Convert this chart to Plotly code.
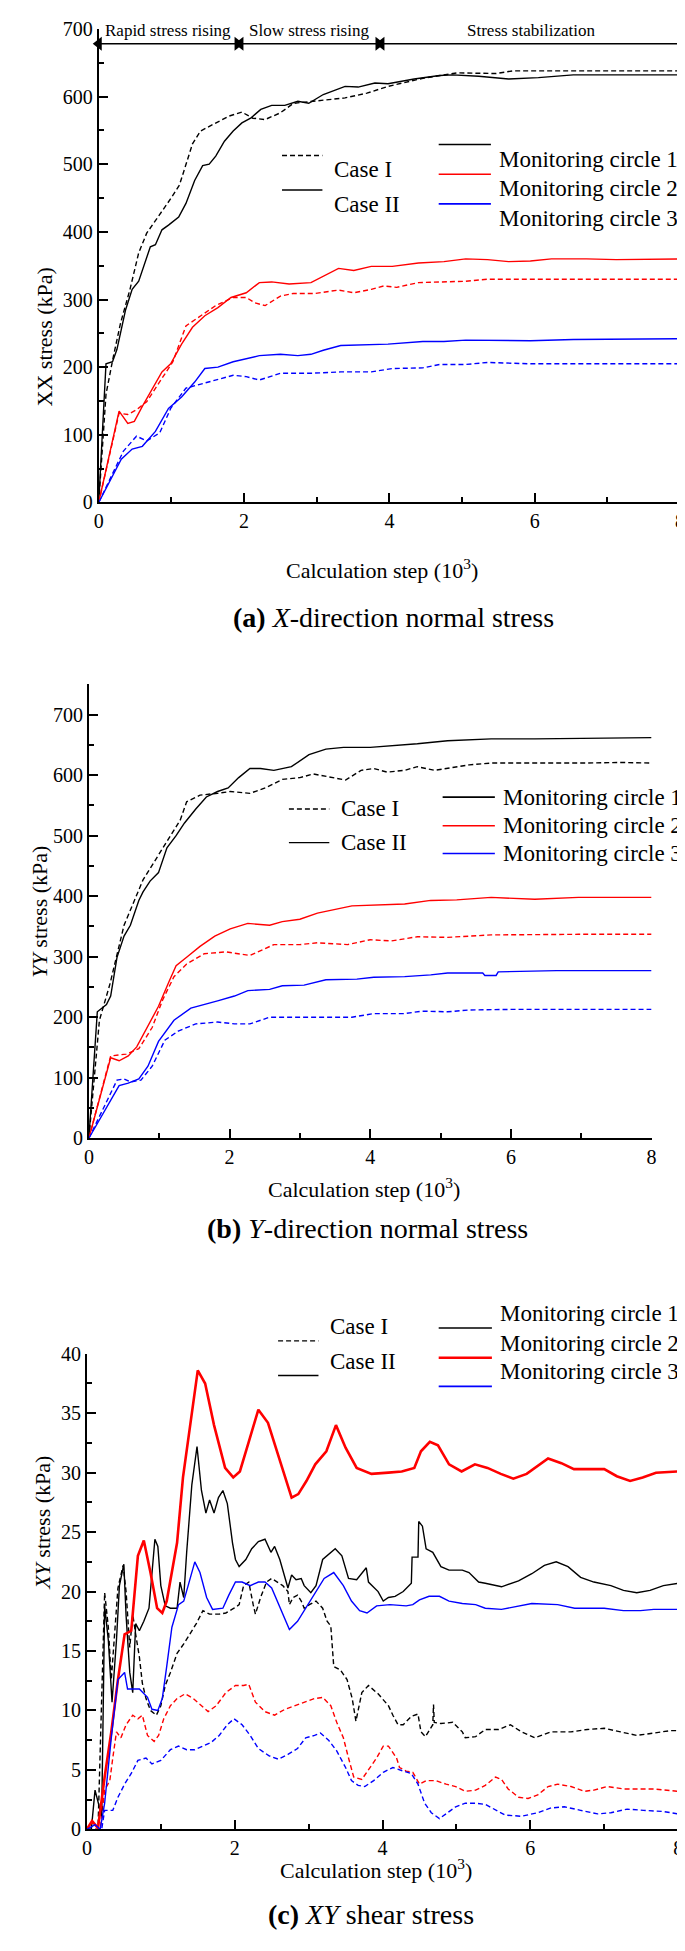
import plotly.graph_objects as go

W, H = 685, 1951
FONT = "Liberation Serif"

# ---------------- panel (a): XX stress ----------------
a_c1_ii_x = [0, 0.1, 0.19, 0.25, 0.37, 0.46, 0.55, 0.6, 0.71, 0.78, 0.87, 0.96, 1.1, 1.2, 1.32, 1.43, 1.52, 1.61, 1.73, 1.85,
             1.97, 2.09, 2.23, 2.38, 2.56, 2.74, 2.89, 3.09, 3.39, 3.57, 3.8, 3.98, 4.34, 4.69, 4.87, 5.23, 5.64, 6.05, 6.53, 7.12, 8]
a_c1_ii_y = [0, 205, 208, 226, 285, 315, 327, 344, 378, 381, 403, 410, 422, 442, 476, 498, 500, 512, 534, 549,
             561, 568, 581, 587, 587, 593, 590, 603, 615, 614, 620, 619, 626, 631, 632, 630, 626, 628, 632, 632, 632]
a_c1_i_x = [0, 0.1, 0.2, 0.3, 0.43, 0.55, 0.66, 0.84, 0.99, 1.11, 1.2, 1.29, 1.4, 1.61, 1.79, 1.97, 2.12, 2.29, 2.5, 2.68,
            2.98, 3.39, 3.69, 3.98, 4.46, 4.93, 5.47, 5.7, 6.53, 8]
a_c1_i_y = [0, 160, 215, 265, 315, 369, 398, 425, 449, 469, 500, 530, 549, 561, 571, 577, 568, 566, 576, 590,
            593, 598, 605, 615, 627, 635, 634, 638, 638, 638]
a_c2_ii_x = [0, 0.28, 0.4, 0.49, 0.6, 0.72, 0.87, 0.99, 1.14, 1.29, 1.46, 1.64, 1.82, 2.03, 2.21, 2.38, 2.62, 2.92, 3.09, 3.3,
             3.51, 3.75, 4.04, 4.4, 4.75, 5.05, 5.35, 5.64, 5.94, 6.23, 6.71, 7.12, 8]
a_c2_ii_y = [0, 135, 117, 120, 142, 164, 193, 205, 234, 259, 276, 288, 303, 310, 325, 326, 323, 325, 334, 346,
             343, 349, 349, 354, 356, 360, 359, 356, 357, 360, 360, 359, 360]
a_c2_i_x = [0, 0.28, 0.4, 0.52, 0.66, 0.84, 1.02, 1.2, 1.37, 1.61, 1.85, 2.03, 2.15, 2.29, 2.5, 2.68, 2.98, 3.3, 3.51, 3.75,
            3.92, 4.1, 4.4, 4.69, 5.05, 5.35, 5.94, 8]
a_c2_i_y = [0, 132, 130, 137, 149, 178, 208, 261, 274, 291, 303, 303, 295, 291, 305, 309, 309, 314, 310, 315,
            320, 318, 325, 326, 327, 330, 330, 330]
a_c3_ii_x = [0, 0.31, 0.46, 0.6, 0.78, 0.96, 1.14, 1.32, 1.46, 1.64, 1.85, 2.03, 2.21, 2.5, 2.74, 2.92, 3.09, 3.33, 3.57, 3.98,
             4.46, 4.75, 5.05, 5.94, 6.53, 8]
a_c3_ii_y = [0, 64, 79, 83, 105, 139, 156, 178, 198, 200, 208, 213, 217, 219, 217, 219, 225, 232, 233, 234,
             238, 238, 240, 239, 241, 242]
a_c3_i_x = [0, 0.34, 0.52, 0.66, 0.84, 0.99, 1.2, 1.37, 1.61, 1.85, 2.03, 2.21, 2.5, 2.92, 3.33, 3.75, 4.04, 4.46, 4.69, 5.05,
            5.35, 5.94, 8]
a_c3_i_y = [0, 76, 98, 91, 103, 139, 169, 174, 181, 188, 186, 181, 191, 191, 193, 193, 198, 199, 204, 204,
            207, 205, 205]

# stage bands marked by arrows on top of panel (a)
stage_names = ["Rapid stress rising", "Slow stress rising", "Stress stabilization"]
stage_start = [0, 1.95, 3.89]
stage_end = [1.91, 3.85, 8]
stage_arrow_y = 678
stage_text_y = 697

# ---------------- panel (b): YY stress ----------------
b_c1_ii_x = [0, 0.12, 0.25, 0.31, 0.4, 0.5, 0.59, 0.71, 0.77, 0.87, 0.99, 1.11, 1.24, 1.36, 1.52, 1.67, 1.83, 1.98, 2.13, 2.29,
             2.44, 2.63, 2.88, 3.13, 3.37, 3.62, 4.0, 4.49, 4.67, 5.1, 5.72, 6.34, 6.96, 8]
b_c1_ii_y = [0, 209, 221, 235, 299, 334, 352, 393, 407, 425, 439, 480, 500, 521, 544, 564, 573, 579, 596, 611,
             611, 608, 614, 634, 643, 646, 646, 650, 652, 657, 660, 660, 661, 662]
b_c1_i_x = [0, 0.15, 0.3, 0.5, 0.77, 0.96, 1.11, 1.3, 1.39, 1.58, 1.83, 2.01, 2.29, 2.51, 2.75, 3.0, 3.19, 3.43, 3.65, 3.87,
            4.05, 4.24, 4.49, 4.67, 4.92, 5.41, 5.72, 6.96, 7.58, 8]
b_c1_i_y = [0, 195, 255, 352, 427, 462, 491, 526, 556, 567, 570, 573, 570, 579, 593, 596, 602, 597, 592, 608,
            611, 605, 608, 614, 608, 617, 620, 620, 621, 620]
b_c2_ii_x = [0, 0.31, 0.43, 0.56, 0.68, 0.84, 0.99, 1.14, 1.24, 1.39, 1.58, 1.79, 2.01, 2.26, 2.57, 2.75, 3.0, 3.25, 3.5, 3.74,
             4.49, 4.86, 5.23, 5.72, 6.34, 6.96, 8]
b_c2_ii_y = [0, 133, 128, 136, 151, 186, 218, 259, 285, 299, 317, 334, 346, 355, 352, 358, 362, 372, 378, 384,
             387, 393, 394, 398, 395, 398, 398]
b_c2_i_x = [0, 0.31, 0.53, 0.71, 0.9, 1.05, 1.21, 1.39, 1.64, 1.95, 2.29, 2.63, 3.0, 3.25, 3.68, 4.0, 4.3, 4.67, 5.1, 5.72,
            6.96, 8]
b_c2_i_y = [0, 136, 139, 148, 183, 229, 267, 288, 305, 308, 302, 320, 320, 323, 320, 328, 326, 333, 332, 336,
            337, 337]
b_c3_ii_x = [0, 0.43, 0.56, 0.71, 0.84, 0.99, 1.21, 1.45, 1.83, 2.07, 2.26, 2.57, 2.75, 3.06, 3.37, 3.81, 4.05, 4.49, 4.86, 5.1,
             5.6, 5.63, 5.79, 5.82, 6.65, 8]
b_c3_ii_y = [0, 87, 91, 98, 119, 160, 195, 215, 227, 235, 244, 246, 252, 253, 262, 263, 266, 267, 270, 273,
             273, 269, 269, 275, 277, 277]
b_c3_i_x = [0, 0.4, 0.5, 0.59, 0.74, 0.9, 1.08, 1.27, 1.52, 1.83, 2.07, 2.29, 2.57, 3.0, 3.74, 4.05, 4.49, 4.73, 5.1, 5.41,
            6.03, 8]
b_c3_i_y = [0, 96, 98, 93, 96, 119, 162, 177, 189, 192, 189, 189, 200, 200, 200, 206, 206, 210, 209, 212,
            213, 213]

# ---------------- panel (c): XY shear stress ----------------
c_c1_ii_x = [0, 0.06, 0.11, 0.15, 0.2, 0.24, 0.29, 0.34, 0.4, 0.44, 0.5, 0.53, 0.58, 0.62, 0.66, 0.71, 0.77, 0.84, 0.88, 0.92,
             0.96, 1.0, 1.06, 1.13, 1.22, 1.26, 1.31, 1.35, 1.42, 1.49, 1.55, 1.61, 1.66, 1.72, 1.78, 1.84, 1.9, 1.97, 2.01, 2.06,
             2.15, 2.23, 2.32, 2.41, 2.49, 2.54, 2.61, 2.68, 2.72, 2.77, 2.83, 2.9, 2.94, 3.03, 3.1, 3.19, 3.36, 3.45, 3.54, 3.65,
             3.78, 3.81, 3.94, 4.01, 4.08, 4.17, 4.28, 4.39, 4.4, 4.48, 4.49, 4.54, 4.59, 4.68, 4.79, 4.9, 5.08, 5.17, 5.3, 5.39,
             5.61, 5.84, 6.02, 6.19, 6.35, 6.51, 6.68, 6.86, 7.09, 7.26, 7.44, 7.62, 7.8, 8]
c_c1_ii_y = [0, 0, 3.3, 2.2, 1.1, 18.8, 15.9, 10.7, 15.9, 20.5, 22.3, 18, 13.2, 11.5, 17.3, 16.7, 17.5, 18.6, 21.4, 24.4,
             23.8, 20.5, 18.8, 18.6, 18.6, 20.8, 19.5, 23.3, 29, 32.2, 28.5, 26.6, 27.7, 26.6, 27.9, 28.5, 27.4, 24.1, 22.7, 22.1,
             22.7, 23.6, 24.2, 24.4, 23.3, 23.8, 22.7, 21.1, 20.3, 21.4, 21, 21.1, 20.5, 19.9, 20.5, 22.7, 23.6, 23, 21.1, 21,
             22, 20.8, 20, 19.2, 19.5, 19.6, 20, 20.7, 22.9, 22.9, 25.9, 25.5, 23.6, 23.3, 22.1, 21.8, 21.8, 21.6, 20.8, 20.7,
             20.4, 20.9, 21.5, 22.2, 22.5, 22.1, 21.2, 20.8, 20.5, 20.1, 19.9, 20.1, 20.5, 20.7]
c_c1_i_x = [0, 0.15, 0.24, 0.29, 0.33, 0.42, 0.49, 0.53, 0.58, 0.62, 0.66, 0.71, 0.75, 0.8, 0.86, 0.94, 1.0, 1.06, 1.13, 1.22,
            1.31, 1.39, 1.48, 1.57, 1.66, 1.79, 1.88, 1.99, 2.06, 2.12, 2.19, 2.25, 2.28, 2.35, 2.43, 2.5, 2.57, 2.65, 2.72, 2.74,
            2.79, 2.85, 2.9, 2.94, 3.01, 3.1, 3.19, 3.25, 3.3, 3.34, 3.43, 3.52, 3.59, 3.64, 3.72, 3.81, 3.94, 4.08, 4.14, 4.21,
            4.28, 4.39, 4.48, 4.52, 4.58, 4.68, 4.69, 4.7, 4.79, 4.95, 5.08, 5.12, 5.26, 5.39, 5.57, 5.73, 5.88, 6.06, 6.28, 6.55,
            6.77, 7.0, 7.22, 7.44, 7.67, 7.89, 8]
c_c1_i_y = [0, 0, 19.9, 17, 12.6, 20.3, 22.2, 20, 15.3, 18.1, 16.4, 14.5, 12.3, 11, 10, 9.6, 10.4, 12.1, 13.2, 14.8,
            15.6, 16.4, 17.3, 18.4, 18.1, 18.1, 18.2, 18.6, 18.9, 20.5, 20.8, 18.9, 18.1, 19.5, 20.8, 21.1, 20.8, 20.5, 20, 18.9,
            19.5, 19.7, 19.2, 18.6, 18.9, 19.2, 18.6, 17.5, 17.1, 13.7, 13.4, 12.6, 11, 9.1, 11.5, 12.1, 11.4, 10.4, 9.6, 8.8,
            8.8, 9.5, 9.7, 8.2, 7.8, 8.8, 10.5, 9, 8.9, 9, 8.2, 7.7, 7.8, 8.4, 8.4, 8.8, 8.2, 7.7, 8.2, 8.2,
            8.4, 8.5, 8.2, 7.9, 8.1, 8.3, 8.3]
c_c2_ii_x = [0, 0.07, 0.15, 0.24, 0.33, 0.42, 0.51, 0.6, 0.69, 0.77, 0.86, 0.95, 1.02, 1.08, 1.22, 1.3, 1.5, 1.6, 1.72, 1.87,
             1.98, 2.07, 2.19, 2.32, 2.45, 2.57, 2.77, 2.86, 2.97, 3.09, 3.24, 3.37, 3.5, 3.65, 3.85, 4.08, 4.26, 4.43, 4.52, 4.64,
             4.75, 4.9, 5.07, 5.25, 5.42, 5.6, 5.77, 5.95, 6.12, 6.24, 6.42, 6.59, 6.82, 7.0, 7.17, 7.35, 7.52, 7.7, 8]
c_c2_ii_y = [0, 0.7, 0.1, 4.4, 8.2, 12.6, 16.4, 16.7, 23, 24.3, 21.6, 18.6, 18.2, 19.2, 24.1, 29.6, 38.6, 37.5, 34, 30.4,
             29.6, 30.1, 32.6, 35.3, 34.2, 31.8, 27.9, 28.2, 29.3, 30.7, 31.8, 34, 32.1, 30.4, 29.9, 30, 30.1, 30.4, 31.8, 32.6,
             32.3, 30.7, 30.1, 30.7, 30.4, 29.9, 29.5, 29.9, 30.7, 31.2, 30.8, 30.3, 30.3, 30.3, 29.7, 29.3, 29.6, 30, 30.1]
c_c2_i_x = [0, 0.18, 0.24, 0.31, 0.35, 0.4, 0.46, 0.53, 0.62, 0.69, 0.75, 0.82, 0.91, 0.97, 1.04, 1.13, 1.22, 1.33, 1.44, 1.55,
            1.64, 1.75, 1.88, 2.01, 2.12, 2.19, 2.28, 2.41, 2.54, 2.68, 2.81, 2.94, 3.08, 3.19, 3.3, 3.38, 3.47, 3.54, 3.61, 3.72,
            3.83, 3.92, 4.01, 4.08, 4.19, 4.23, 4.32, 4.41, 4.5, 4.59, 4.72, 4.86, 4.99, 5.12, 5.26, 5.39, 5.53, 5.61, 5.7, 5.84,
            5.97, 6.1, 6.24, 6.37, 6.55, 6.73, 6.86, 7.04, 7.26, 7.44, 7.67, 8]
c_c2_i_y = [0, 0, 3.3, 4.1, 6, 8.2, 7.7, 8.8, 9.6, 9.3, 9.6, 7.9, 7.4, 7.9, 9.3, 10.4, 11, 11.4, 11, 10.4,
            9.9, 10.4, 11.5, 12.1, 12.1, 12.2, 10.7, 9.9, 9.6, 10.1, 10.4, 10.7, 11, 11.1, 10.4, 9, 7.7, 6, 4.4, 4.2,
            5.2, 6, 7, 7, 6, 5.2, 4.9, 4.8, 3.8, 4.1, 4.1, 3.8, 3.6, 3.2, 3.3, 3.7, 4.4, 4.2, 3.4, 2.7,
            2.6, 2.9, 3.6, 3.8, 3.6, 3.2, 3.3, 3.6, 3.4, 3.4, 3.4, 3.2]
c_c3_ii_x = [0, 0.11, 0.18, 0.24, 0.33, 0.42, 0.51, 0.55, 0.62, 0.71, 0.82, 0.88, 0.96, 1.02, 1.08, 1.15, 1.24, 1.31, 1.37, 1.46,
             1.53, 1.62, 1.7, 1.84, 1.92, 2.01, 2.1, 2.21, 2.32, 2.41, 2.5, 2.63, 2.74, 2.85, 2.96, 3.1, 3.21, 3.34, 3.47, 3.58,
             3.69, 3.79, 3.92, 4.1, 4.32, 4.41, 4.5, 4.63, 4.77, 4.9, 5.08, 5.26, 5.39, 5.61, 5.84, 6.02, 6.37, 6.6, 7.0, 7.26,
             7.49, 7.67, 8]
c_c3_ii_y = [0, 0.4, 0, 2.2, 7.7, 12.6, 13.2, 11.8, 11.8, 11.8, 11.1, 10.1, 10, 11, 13.7, 17, 18.9, 19.2, 20.5, 22.5,
             21.6, 19.5, 18.5, 18.6, 19.7, 20.8, 20.8, 20.5, 20.8, 20.8, 20.3, 18.4, 16.8, 17.5, 18.6, 20, 21.1, 21.6, 20.5, 19.2,
             18.4, 18.2, 18.8, 18.9, 18.8, 18.9, 19.3, 19.6, 19.6, 19.2, 19, 18.9, 18.6, 18.5, 18.8, 19, 18.9, 18.6, 18.6, 18.4,
             18.4, 18.5, 18.5]
c_c3_i_x = [0, 0.2, 0.24, 0.35, 0.42, 0.51, 0.6, 0.69, 0.8, 0.88, 1.0, 1.13, 1.24, 1.35, 1.46, 1.57, 1.68, 1.79, 1.9, 1.99,
            2.1, 2.21, 2.32, 2.46, 2.59, 2.72, 2.85, 2.96, 3.08, 3.16, 3.27, 3.38, 3.5, 3.58, 3.67, 3.76, 3.88, 4.01, 4.14, 4.28,
            4.39, 4.48, 4.57, 4.66, 4.77, 4.88, 4.99, 5.12, 5.26, 5.39, 5.53, 5.66, 5.88, 6.1, 6.28, 6.46, 6.68, 6.91, 7.09, 7.31,
            7.53, 7.8, 8]
c_c3_i_y = [0, 0, 1.6, 1.6, 2.7, 3.8, 4.7, 5.8, 6, 5.5, 5.8, 6.7, 7, 6.7, 6.7, 7, 7.3, 7.9, 8.8, 9.3,
            8.8, 7.9, 6.8, 6.2, 5.9, 6.3, 6.8, 7.7, 7.9, 8.1, 7.5, 6.6, 5.2, 4.1, 3.7, 3.6, 4.1, 4.8, 5.2, 4.9,
            4.7, 3.8, 2.2, 1.4, 0.9, 1.4, 1.9, 2.2, 2.2, 2.1, 1.6, 1.2, 1.1, 1.4, 1.8, 1.9, 1.6, 1.3, 1.4, 1.7,
            1.6, 1.5, 1.3]

case_labels = ["Case I", "Case II"]
circle_labels = ["Monitoring circle 1", "Monitoring circle 2", "Monitoring circle 3"]
colors = ["#000000", "#ff0000", "#0000ff"]
DASH = "5px,3px"


def fx(px):
    return px / W


def fy(py):
    return 1 - py / H


# pixel boxes of each panel: (left, right, top, bottom)
panels = [
    dict(box=(87, 677, 10, 489), yr=[0, 700], ydt=100, ymin=50, ytitle="XX stress (kPa)", ytx=17,
         xtitle_xy=(374, 540), cap_xy=(386, 588), cap="<b>(a)</b> <i>X</i>-direction normal stress",
         leg=dict(case_x=(273, 314), case_y=(138, 173), circ_x=(432, 485), circ_y=(127, 157, 187))),
    dict(box=(77, 648, 673, 1132), yr=[0, 750], ydt=100, ymin=50, ytitle="<i>YY</i> stress (kPa)", ytx=12,
         xtitle_xy=(356, 1182), cap_xy=(360, 1223), cap="<b>(b)</b> <i>Y</i>-direction normal stress",
         leg=dict(case_x=(280, 321), case_y=(799, 833), circ_x=(436, 489), circ_y=(787, 816, 844))),
    dict(box=(75, 675, 1350, 1831), yr=[0, 40], ydt=5, ymin=2.5, ytitle="<i>XY</i> stress (kPa)", ytx=15,
         xtitle_xy=(368, 1887), cap_xy=(363, 1935), cap="<b>(c)</b> <i>XY</i> shear stress",
         leg=dict(case_x=(269, 310), case_y=(1337, 1372), circ_x=(432, 486), circ_y=(1324, 1354, 1383))),
]

series = [
    [(a_c1_i_x, a_c1_i_y), (a_c2_i_x, a_c2_i_y), (a_c3_i_x, a_c3_i_y),
     (a_c1_ii_x, a_c1_ii_y), (a_c2_ii_x, a_c2_ii_y), (a_c3_ii_x, a_c3_ii_y)],
    [(b_c1_i_x, b_c1_i_y), (b_c2_i_x, b_c2_i_y), (b_c3_i_x, b_c3_i_y),
     (b_c1_ii_x, b_c1_ii_y), (b_c2_ii_x, b_c2_ii_y), (b_c3_ii_x, b_c3_ii_y)],
    [(c_c1_i_x, c_c1_i_y), (c_c2_i_x, c_c2_i_y), (c_c3_i_x, c_c3_i_y),
     (c_c1_ii_x, c_c1_ii_y), (c_c2_ii_x, c_c2_ii_y), (c_c3_ii_x, c_c3_ii_y)],
]

fig = go.Figure()
shapes = []
annotations = []

for p, (panel, data) in enumerate(zip(panels, series)):
    sfx = "" if p == 0 else str(p + 1)
    xa, ya = "x" + sfx, "y" + sfx
    left, right, top, bottom = panel["box"]

    for k, (xs, ys) in enumerate(data):
        dashed = k < 3
        color = colors[k % 3]
        width = 1.4
        if p == 2 and k == 4:
            width = 2.6
        fig.add_trace(go.Scatter(
            x=xs, y=ys, mode="lines", xaxis=xa, yaxis=ya, showlegend=False,
            line=dict(color=color, width=width, dash=DASH if dashed else "solid"),
        ))

    axis_common = dict(
        showgrid=False, zeroline=False, showline=True, linecolor="black", linewidth=2,
        ticks="inside", ticklen=9, tickwidth=1.6, tickcolor="black", ticklabeloverflow="allow",
        tickfont=dict(family=FONT, size=20, color="black"),
    )
    fig.update_layout(**{
        "xaxis" + sfx: dict(
            domain=[fx(left), fx(right)], range=[0, 8], dtick=2, tick0=0,
            anchor=ya, minor=dict(ticks="inside", ticklen=5, dtick=1, tickcolor="black", tickwidth=1.6),
            **axis_common),
        "yaxis" + sfx: dict(
            domain=[fy(bottom), fy(top)], range=panel["yr"], dtick=panel["ydt"], tick0=0,
            anchor=xa, minor=dict(ticks="inside", ticklen=5, dtick=panel["ymin"], tickcolor="black", tickwidth=1.6),
            **axis_common),
    })

    # axis titles and caption
    annotations.append(dict(
        x=fx(panel["ytx"]), y=fy((top + bottom) / 2), xref="paper", yref="paper", text=panel["ytitle"],
        textangle=-90, showarrow=False, font=dict(family=FONT, size=22, color="black")))
    annotations.append(dict(
        x=fx(panel["xtitle_xy"][0]), y=fy(panel["xtitle_xy"][1]), xref="paper", yref="paper",
        text="Calculation step (10<sup>3</sup>)", showarrow=False,
        font=dict(family=FONT, size=22, color="black")))
    annotations.append(dict(
        x=fx(panel["cap_xy"][0]), y=fy(panel["cap_xy"][1]), xref="paper", yref="paper",
        text=panel["cap"], showarrow=False, font=dict(family=FONT, size=28, color="black")))

    # legends drawn by hand: line styles (case) and colours (circle)
    leg = panel["leg"]
    for j, lab in enumerate(case_labels):
        yy = leg["case_y"][j]
        shapes.append(dict(type="line", xref="paper", yref="paper",
                           x0=fx(leg["case_x"][0]), x1=fx(leg["case_x"][1]), y0=fy(yy), y1=fy(yy),
                           line=dict(color="black", width=1.4, dash=DASH if j == 0 else "solid")))
        annotations.append(dict(x=fx(leg["case_x"][1] + 10), y=fy(yy), xref="paper", yref="paper",
                                text=lab, showarrow=False, xanchor="left",
                                font=dict(family=FONT, size=23, color="black")))
    for j, lab in enumerate(circle_labels):
        yy = leg["circ_y"][j]
        w = 2.6 if (p == 2 and j == 1) else 1.6
        shapes.append(dict(type="line", xref="paper", yref="paper",
                           x0=fx(leg["circ_x"][0]), x1=fx(leg["circ_x"][1]), y0=fy(yy), y1=fy(yy),
                           line=dict(color=colors[j], width=w)))
        annotations.append(dict(x=fx(leg["circ_x"][1] + 6), y=fy(yy), xref="paper", yref="paper",
                                text=lab, showarrow=False, xanchor="left",
                                font=dict(family=FONT, size=23, color="black")))

# stage arrows (line with a head at each end) and labels on panel (a)
for name, s0, s1 in zip(stage_names, stage_start, stage_end):
    fig.add_trace(go.Scatter(
        x=[s0, s1], y=[stage_arrow_y, stage_arrow_y], mode="lines+markers", xaxis="x", yaxis="y",
        showlegend=False, cliponaxis=False, line=dict(color="black", width=1.5),
        marker=dict(symbol=["triangle-left", "triangle-right"], size=12, color="black"),
    ))
    annotations.append(dict(
        x=(s0 + s1) / 2, y=stage_text_y, xref="x", yref="y", text=name, showarrow=False,
        font=dict(family=FONT, size=17, color="black")))

fig.update_layout(
    width=W, height=H, autosize=False,
    margin=dict(l=0, r=0, t=0, b=0),
    paper_bgcolor="white", plot_bgcolor="white",
    shapes=shapes, annotations=annotations,
    showlegend=False,
)

fig.write_html("out.html")
